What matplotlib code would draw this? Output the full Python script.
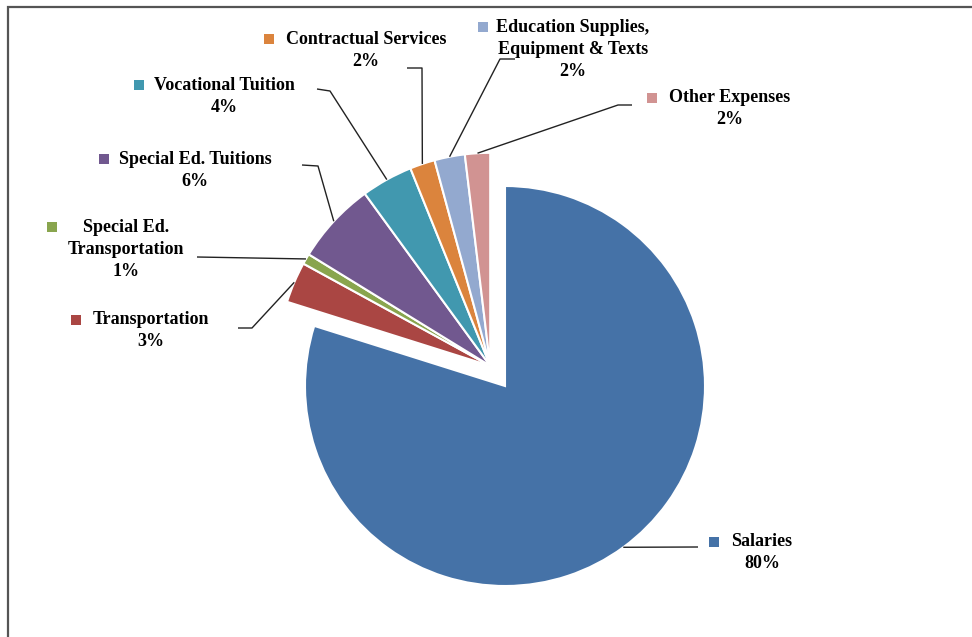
import numpy as np
import matplotlib
matplotlib.use("Agg")
import matplotlib.pyplot as plt
from matplotlib.patches import Rectangle

# data (share of budget, %)
categories = ["Salaries", "Transportation", "Special Ed.\nTransportation",
              "Special Ed. Tuitions", "Vocational Tuition", "Contractual Services",
              "Education Supplies,\nEquipment & Texts", "Other Expenses"]
shares = [79.7, 3.1, 0.8, 6.2, 3.9, 1.9, 2.3, 1.9]
colors = ["#4572A7", "#AA4643", "#89A54E", "#71588F", "#4198AF", "#DB843D", "#93A9CF", "#D19392"]

W, H = 972, 637

def px(x, y):
    # image pixel coords (y down) -> data coords (y up)
    return x, H - y

# label layout: text centre x, first line y, gap marker->text, leader elbow points (image px)
layout = {
    "Salaries": (762, 542, 12, [(698, 547)]),
    "Transportation": (151, 320, 12, [(238, 328), (252, 328)]),
    "Special Ed.\nTransportation": (126, 227, 26, [(197, 257)]),
    "Special Ed. Tuitions": (195, 159, 10, [(302, 165), (318, 166)]),
    "Vocational Tuition": (224, 85, 10, [(317, 89), (330, 91)]),
    "Contractual Services": (366, 39, 12, [(407, 68), (422, 68)]),
    "Education Supplies,\nEquipment & Texts": (573, 27, 8, [(515, 59), (500, 59)]),
    "Other Expenses": (730, 98, 12, [(632, 105), (618, 105)]),
}

fig = plt.figure(figsize=(W / 100, H / 100), dpi=100)
ax = fig.add_axes([0, 0, 1, 1])

center = px(505, 386)
radius = 200
wedges, _ = ax.pie(shares, colors=colors, startangle=90, counterclock=False,
                   center=center, radius=radius,
                   wedgeprops=dict(edgecolor="white", linewidth=1.5))

# the small slices are pulled out together, along the bisector of their group
small = wedges[1:]
t_lo = min(w.theta1 for w in small)
t_hi = max(w.theta2 for w in small)
mid = np.radians((t_lo + t_hi) / 2)
shift = 25
small_c = (center[0] + shift * np.cos(mid), center[1] + shift * np.sin(mid))
for w in small:
    w.set_center(small_c)
    w.set_radius(radius * 1.065)

ax.set_xlim(0, W)
ax.set_ylim(0, H)
ax.set_aspect("equal")
ax.axis("off")

font = dict(family="Liberation Serif", weight="bold", fontsize=13, color="black")
pcts = [round(s / sum(shares) * 100) for s in shares]

fig.canvas.draw()
renderer = fig.canvas.get_renderer()

for w, name, pct, col in zip(wedges, categories, pcts, colors):
    cx, y0, gap, elbow = layout[name]
    lines = name.split("\n") + ["%d%%" % pct]
    first = None
    for i, line in enumerate(lines):
        t = ax.text(*px(cx, y0 + 22 * i), line, ha="center", va="center", **font)
        if i == 0:
            first = t
    # colour key left of first line
    bb = first.get_window_extent(renderer)
    left = bb.x0
    ax.add_patch(Rectangle((left - gap - 10, H - y0 - 5), 10, 10, facecolor=col, edgecolor="none"))

    # leader line from wedge mid-angle to the label
    a = np.radians((w.theta1 + w.theta2) / 2)
    wc = w.center
    anchor = (wc[0] + w.r * np.cos(a), wc[1] + w.r * np.sin(a))
    pts = [px(*p) for p in elbow] + [anchor]
    xs, ys = zip(*pts)
    ax.plot(xs, ys, color="#222222", lw=1.0, solid_capstyle="butt")

# chart frame
fig.add_artist(Rectangle((8 / W, -0.1), 1.2, (H - 7) / H + 0.1, transform=fig.transFigure,
                         fill=False, edgecolor="#555555", linewidth=1.6))

fig.savefig("out.png", dpi=100, facecolor="white")
